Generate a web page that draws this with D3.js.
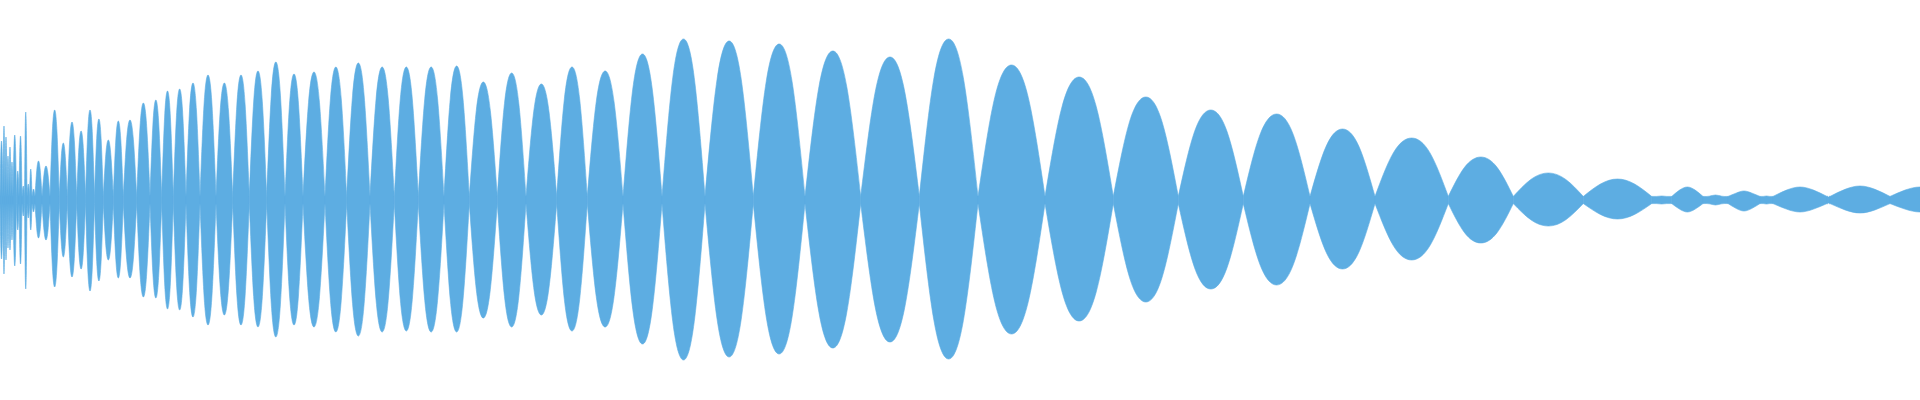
<!DOCTYPE html>
<html>
<head>
<meta charset="utf-8">
<script src="https://cdn.jsdelivr.net/npm/d3@7"></script>
<style>
  html, body { margin: 0; padding: 0; background: #fff; overflow: hidden; }
</style>
</head>
<body>
<div class="chart"></div>
<script>
// Beat nodes of the waveform (ms), one more than the number of lobes
var nodeTimes = [0, 30, 50, 70, 90, 110, 130, 165, 190, 220, 245, 270, 295, 320, 350, 420, 500,
  593, 673, 767, 855, 945, 1033, 1133, 1233, 1367, 1500, 1617, 1733, 1860, 2000, 2160, 2327,
  2493, 2667, 2850, 3030, 3250, 3467, 3700, 3943, 4183, 4440, 4693, 4973, 5260, 5567, 5873,
  6230, 6620, 7050, 7533, 8050, 8607, 9193, 9780, 10450, 11133, 11783, 12433, 13100, 13750,
  14483, 15133, 15833, 16517, 16717, 17030, 17280, 17600, 17730, 18270, 18300, 18900, 19500];

// Peak amplitude of each lobe, per mille of full scale
var peakTop = [295, 370, 315, 220, 265, 190, 325, 145, 320, 70, 440, 80, 155, 55, 195, 170,
  450, 285, 390, 345, 450, 405, 300, 395, 400, 485, 500, 545, 555, 585, 625, 585, 625, 645,
  690, 630, 640, 665, 685, 665, 665, 665, 670, 590, 635, 580, 665, 645, 730, 805, 795, 780,
  745, 715, 805, 675, 615, 515, 450, 430, 355, 310, 215, 135, 105, 20, 65, 25, 45, 20, 65,
  15, 70, 65];
var peakBottom = [295, 370, 300, 240, 250, 200, 330, 150, 320, 80, 445, 90, 150, 60, 190, 200,
  435, 285, 385, 345, 455, 405, 300, 390, 390, 485, 490, 545, 550, 585, 625, 575, 625, 635,
  685, 625, 635, 660, 680, 660, 655, 660, 660, 590, 635, 575, 655, 635, 720, 800, 785, 770,
  740, 710, 795, 670, 605, 510, 445, 425, 345, 300, 215, 130, 95, 20, 60, 25, 55, 20, 60,
  15, 65, 60];

var svgWidth = 1920;
var svgHeight = 400;
var floorAmp = 18;     // residual signal at the nodes
var shoulder = 0.76;   // envelope height at a quarter of the lobe, relative to its peak

var svg = d3.select(".chart")
  .append("svg")
  .attr("width", svgWidth)
  .attr("height", svgHeight);

var xScale = d3.scaleLinear()
  .domain([0, 19200])
  .range([0, svgWidth]);
var yScale = d3.scaleLinear()
  .domain([-1000, 1000])
  .range([svgHeight, 0]);

// one envelope per lobe: node, shoulder, peak, shoulder, node
var lobes = peakTop.map((top, i) => {
  var t0 = nodeTimes[i], t1 = nodeTimes[i + 1], w = t1 - t0;
  var bottom = peakBottom[i];
  return [
    {t: t0, top: floorAmp, bottom: floorAmp},
    {t: t0 + w * 0.25, top: Math.max(floorAmp, top * shoulder), bottom: Math.max(floorAmp, bottom * shoulder)},
    {t: t0 + w * 0.5, top: top, bottom: bottom},
    {t: t0 + w * 0.75, top: Math.max(floorAmp, top * shoulder), bottom: Math.max(floorAmp, bottom * shoulder)},
    {t: t1, top: floorAmp, bottom: floorAmp}
  ];
});

var area = d3.area()
  .curve(d3.curveNatural)
  .x(d => xScale(d.t))
  .y0(d => yScale(-d.bottom))
  .y1(d => yScale(d.top));

svg.append("g")
  .selectAll("path")
  .data(lobes)
  .enter()
  .append("path")
  .attr("d", area)
  .attr("fill", "#5dade2")
  .attr("stroke", "#5dade2")
  .attr("stroke-width", 0.6);
</script>
</body>
</html>
